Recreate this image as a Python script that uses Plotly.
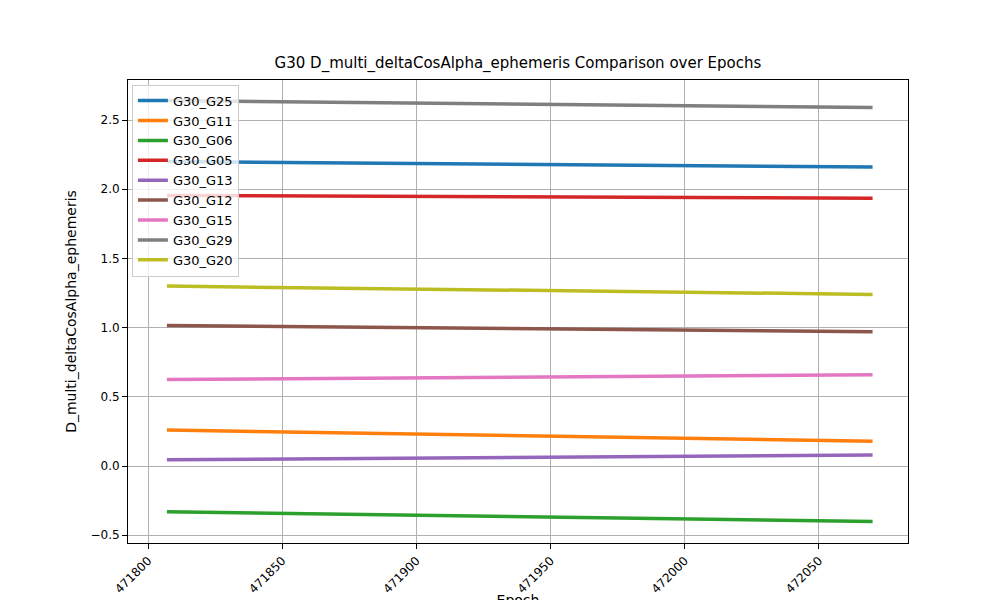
import plotly.graph_objects as go

# epochs (first and last)
epochs = [471807, 472070]

names = ['G30_G25', 'G30_G11', 'G30_G06', 'G30_G05', 'G30_G13',
         'G30_G12', 'G30_G15', 'G30_G29', 'G30_G20']
g25 = [2.20, 2.16]
g11 = [0.26, 0.18]
g06 = [-0.33, -0.40]
g05 = [1.955, 1.935]
g13 = [0.045, 0.08]
g12 = [1.015, 0.97]
g15 = [0.625, 0.66]
g29 = [2.64, 2.59]
g20 = [1.30, 1.24]
series = [g25, g11, g06, g05, g13, g12, g15, g29, g20]

colors = ['#1f77b4', '#ff7f0e', '#2ca02c', '#d62728', '#9467bd',
          '#8c564b', '#e377c2', '#7f7f7f', '#bcbd22']

fig = go.Figure()
for name, vals, c in zip(names, series, colors):
    fig.add_trace(go.Scatter(x=epochs, y=vals, mode='lines', name=name,
                             line=dict(color=c, width=3.5)))

axis_style = dict(showline=True, linecolor='black', mirror=True,
                  showgrid=True, gridcolor='#b0b0b0', zeroline=False,
                  ticks='outside', tickcolor='black', ticklen=5, automargin=False)

fig.update_layout(
    width=1000, height=600,
    plot_bgcolor='white', paper_bgcolor='white',
    font=dict(family='DejaVu Sans', size=12, color='black'),
    title=dict(text='G30 D_multi_deltaCosAlpha_ephemeris Comparison over Epochs',
               x=0.51, xanchor='center', y=0.9, yanchor='bottom',
               font=dict(size=15)),
    margin=dict(l=120, r=100, t=72, b=65),
    legend=dict(x=0.005, y=0.99, xanchor='left', yanchor='top',
                bordercolor='#cccccc', borderwidth=1, bgcolor='rgba(255,255,255,0.8)',
                tracegroupgap=0, font=dict(size=13)),
    showlegend=True,
)
fig.update_xaxes(axis_style, range=[471792.5, 472083.2], tickangle=-45,
                 tickvals=[471800, 471850, 471900, 471950, 472000, 472050],
                 ticktext=['471800', '471850', '471900', '471950', '472000', '472050'],
                 title=dict(text='Epoch', standoff=60))
fig.update_yaxes(axis_style, range=[-0.556, 2.789], dtick=0.5, tickformat='.1f',
                 title=dict(text='D_multi_deltaCosAlpha_ephemeris', standoff=10))

fig.write_html('out.html')
